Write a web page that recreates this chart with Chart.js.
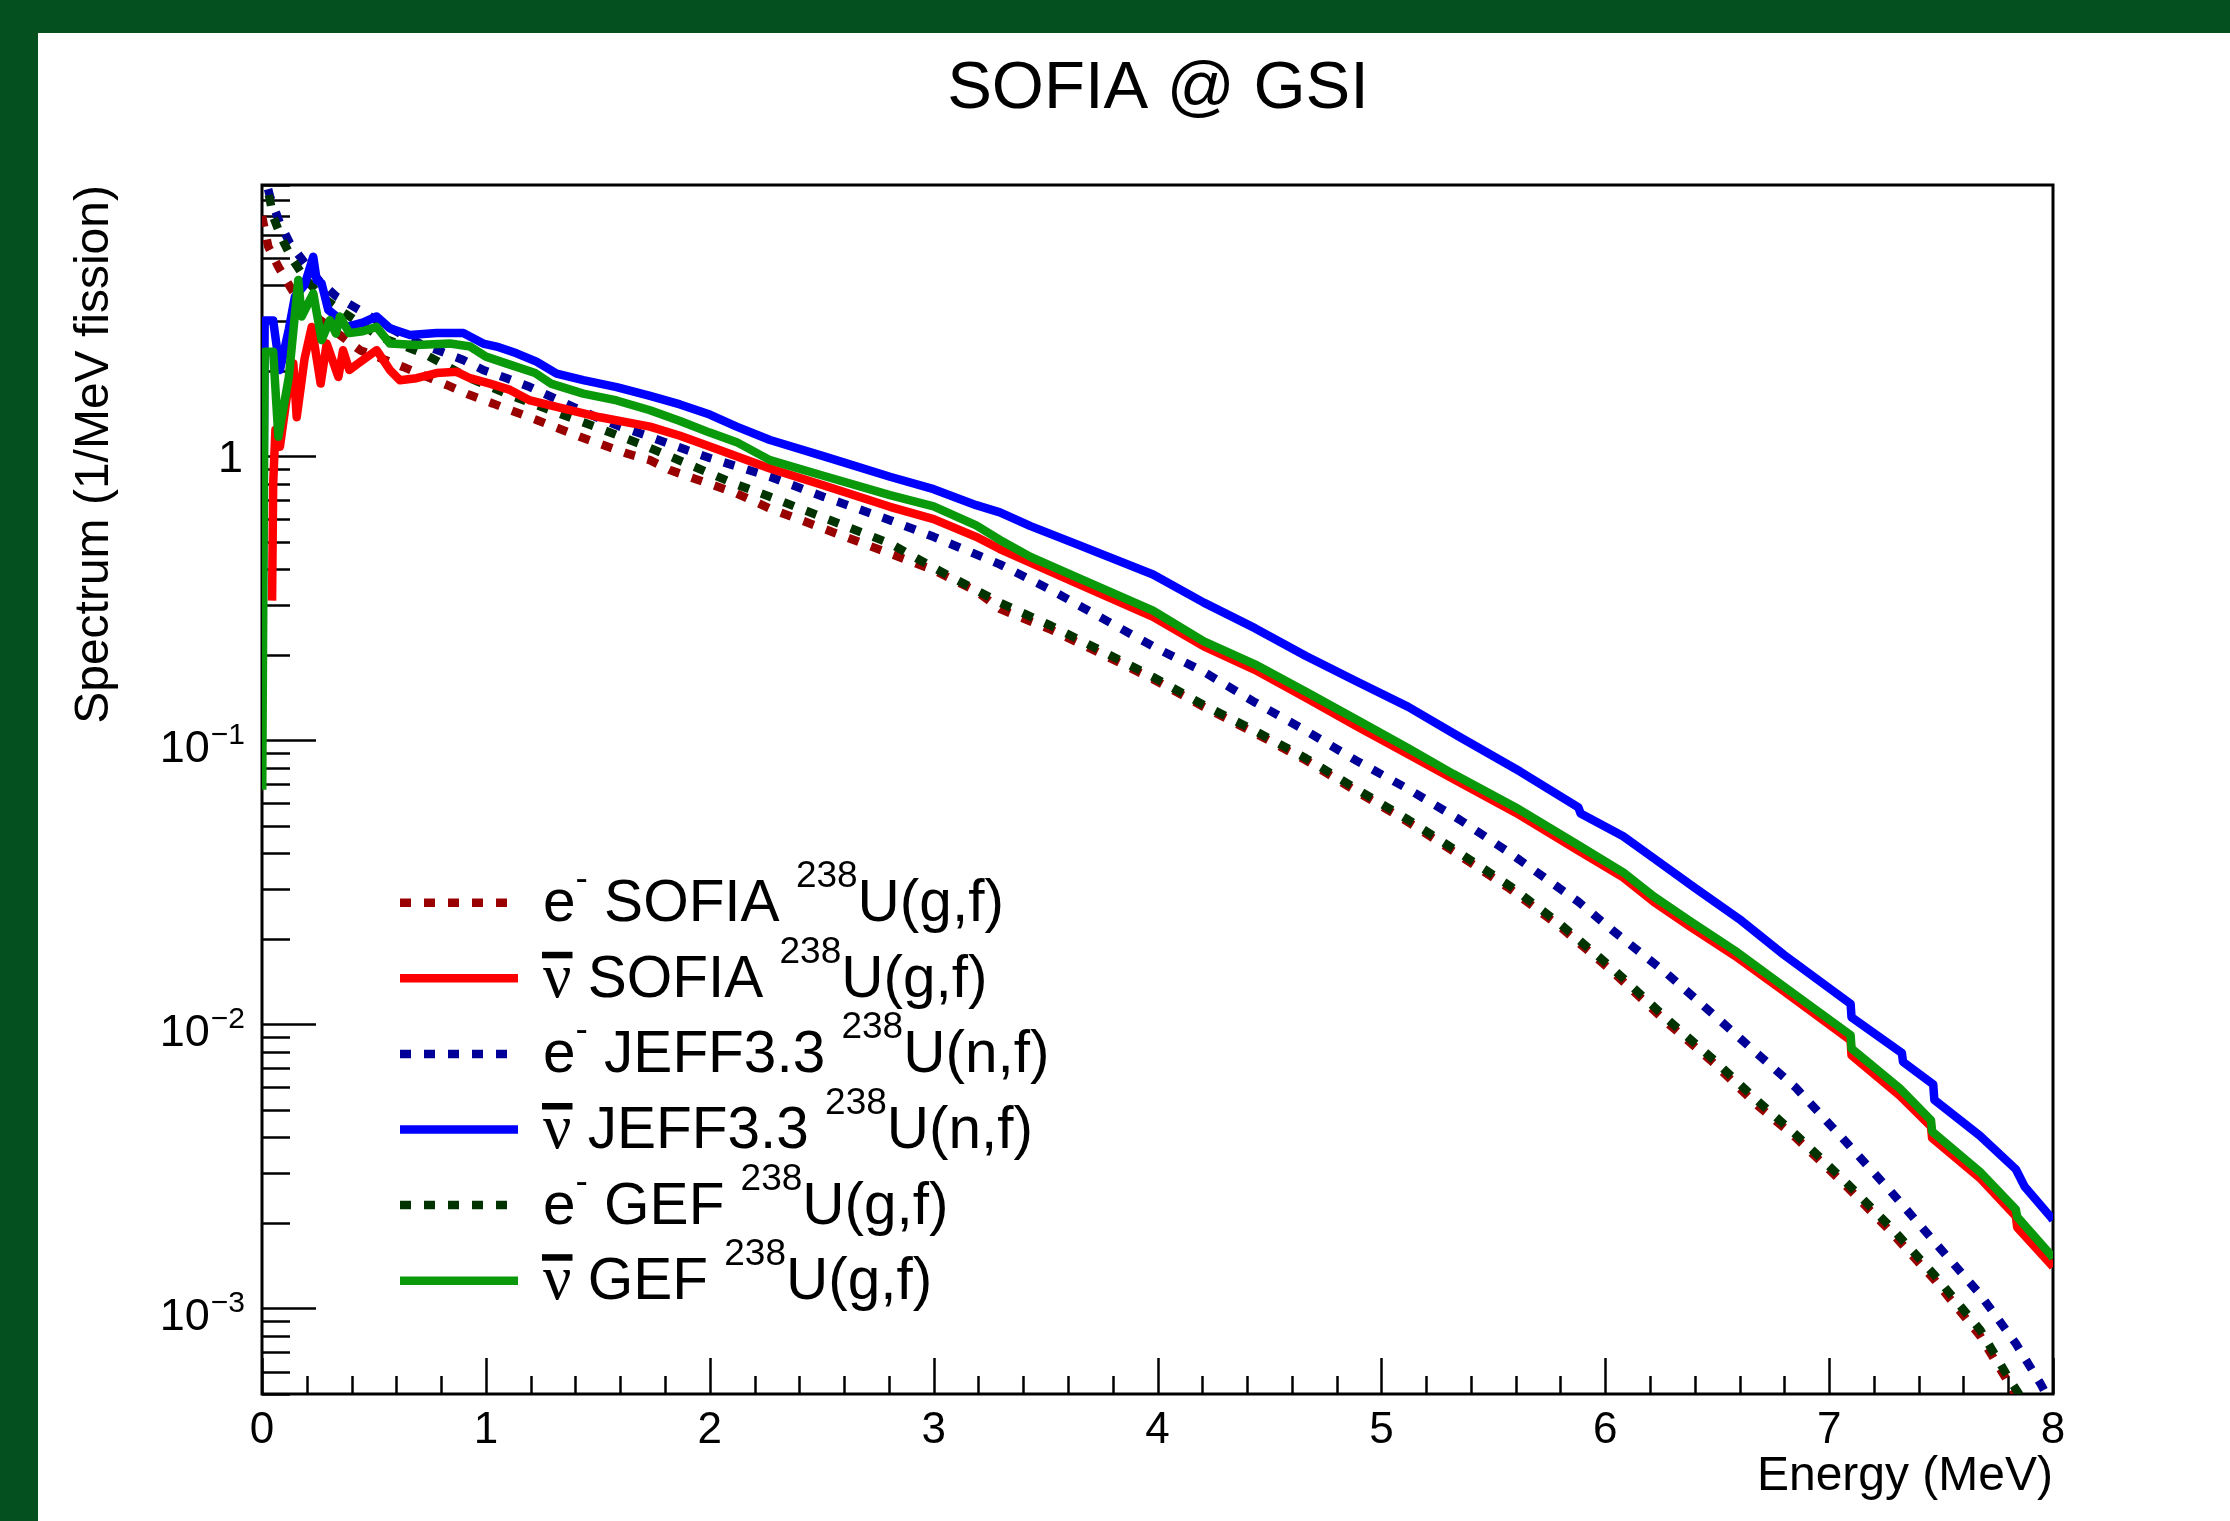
<!DOCTYPE html>
<html>
<head>
<meta charset="utf-8">
<script src="https://cdn.jsdelivr.net/npm/chart.js@4.4.1/dist/chart.umd.min.js"></script>
<style>
html,body{margin:0;padding:0;background:#fff;overflow:hidden}
canvas{display:block}
</style>
</head>
<body>
<canvas id="c" width="2230" height="1521"></canvas>
<script>
// ---------------- data ----------------
const eSofiaE = [0.0, 0.028, 0.073, 0.125, 0.184, 0.3, 0.438, 0.631, 0.825, 0.929, 1.033, 1.227, 1.42, 1.629, 1.733, 1.822, 2.016, 2.12, 2.269, 2.507, 2.805, 3.0, 3.19, 3.296, 3.524, 3.752, 3.98, 4.207, 4.435, 4.663, 4.89, 5.12, 5.35, 5.574, 5.8, 6.03, 6.279, 6.485, 6.678, 6.85, 7.076, 7.276, 7.475, 7.675, 7.8, 7.86];
const eSofiaV = [7.0, 5.46, 4.64, 3.95, 3.35, 2.85, 2.36, 2.06, 1.78, 1.64, 1.53, 1.34, 1.17, 1.022, 0.968, 0.893, 0.79, 0.739, 0.654, 0.556, 0.454, 0.397, 0.335, 0.29, 0.245, 0.201, 0.164, 0.131, 0.106, 0.085, 0.066, 0.0515, 0.0393, 0.03, 0.022, 0.0154, 0.0101, 0.0073, 0.0052, 0.004, 0.0027, 0.00186, 0.00125, 0.0008, 0.00055, 0.00046];

const nuSofiaE = [0.045, 0.05, 0.06, 0.08, 0.11, 0.14, 0.155, 0.19, 0.222, 0.262, 0.289, 0.341, 0.362, 0.39, 0.43, 0.512, 0.571, 0.616, 0.69, 0.78, 0.87, 0.929, 1.018, 1.108, 1.197, 1.316, 1.51, 1.733, 1.867, 2.031, 2.269, 2.507, 2.805, 3.0, 3.19, 3.296, 3.638, 3.98, 4.207, 4.435, 4.663, 4.89, 5.12, 5.322, 5.6, 5.88, 6.08, 6.219, 6.378, 6.578, 6.797, 7.096, 7.1, 7.315, 7.455, 7.46, 7.673, 7.834, 7.84, 7.994, 8.0];
const nuSofiaV = [0.31, 0.8, 1.24, 1.08, 1.6, 2.12, 1.37, 2.2, 2.85, 1.8, 2.49, 1.9, 2.36, 2.01, 2.12, 2.36, 2.01, 1.85, 1.88, 1.96, 1.98, 1.88, 1.8, 1.71, 1.57, 1.49, 1.37, 1.27, 1.18, 1.06, 0.905, 0.79, 0.663, 0.6, 0.52, 0.471, 0.357, 0.272, 0.214, 0.177, 0.141, 0.112, 0.0893, 0.073, 0.0556, 0.0409, 0.0329, 0.0269, 0.0221, 0.01745, 0.0131, 0.00878, 0.00778, 0.00562, 0.00437, 0.00398, 0.00288, 0.00211, 0.00193, 0.00142, 0.0014];

const eJeffE = [0.0, 0.036, 0.08, 0.125, 0.192, 0.26, 0.333, 0.423, 0.55, 0.7, 0.899, 0.988, 1.093, 1.197, 1.39, 1.495, 1.599, 1.733, 1.897, 2.0, 2.269, 2.507, 2.805, 3.0, 3.296, 3.524, 3.752, 3.98, 4.207, 4.435, 4.663, 4.89, 5.12, 5.35, 5.574, 5.88, 6.03, 6.279, 6.485, 6.678, 6.85, 7.076, 7.276, 7.475, 7.675, 7.834, 7.944, 8.0];
const eJeffV = [10.5, 8.19, 6.6, 5.61, 4.77, 4.1, 3.64, 3.31, 2.88, 2.5, 2.18, 2.01, 1.88, 1.75, 1.49, 1.37, 1.27, 1.17, 1.05, 0.985, 0.846, 0.72, 0.595, 0.52, 0.416, 0.338, 0.269, 0.214, 0.174, 0.136, 0.108, 0.0846, 0.0673, 0.0525, 0.0401, 0.027, 0.0215, 0.015, 0.0108, 0.0079, 0.006, 0.00385, 0.00258, 0.0017, 0.00112, 0.000753, 0.000544, 0.00045];

const nuJeffE = [0.002, 0.012, 0.05, 0.08, 0.12, 0.147, 0.19, 0.229, 0.244, 0.266, 0.296, 0.333, 0.378, 0.45, 0.512, 0.571, 0.661, 0.78, 0.899, 0.988, 1.048, 1.137, 1.226, 1.316, 1.435, 1.584, 1.733, 1.867, 2.0, 2.12, 2.269, 2.507, 2.805, 3.0, 3.19, 3.296, 3.433, 3.638, 3.98, 4.207, 4.435, 4.663, 4.89, 5.12, 5.342, 5.62, 5.88, 5.89, 6.08, 6.219, 6.398, 6.598, 6.797, 7.096, 7.1, 7.325, 7.33, 7.465, 7.47, 7.673, 7.834, 7.874, 7.994, 8.0];
const nuJeffV = [0.2, 3.0, 3.0, 2.01, 2.8, 3.64, 4.0, 5.03, 4.17, 4.06, 3.27, 3.1, 2.85, 2.95, 3.1, 2.82, 2.67, 2.71, 2.71, 2.49, 2.43, 2.3, 2.15, 1.95, 1.85, 1.75, 1.63, 1.52, 1.4, 1.27, 1.14, 1.0, 0.846, 0.765, 0.672, 0.634, 0.567, 0.49, 0.383, 0.305, 0.248, 0.198, 0.161, 0.131, 0.1035, 0.0776, 0.058, 0.0552, 0.0459, 0.0383, 0.0303, 0.0235, 0.0176, 0.0118, 0.0106, 0.00793, 0.00738, 0.00615, 0.00542, 0.00406, 0.00309, 0.00268, 0.00208, 0.00205];

const eGefE = [0.0, 0.028, 0.05, 0.088, 0.133, 0.192, 0.267, 0.348, 0.438, 0.527, 0.72, 0.914, 1.108, 1.309, 1.51, 1.703, 1.897, 2.09, 2.269, 2.507, 2.805, 3.0, 3.296, 3.524, 3.752, 3.98, 4.207, 4.435, 4.663, 4.89, 5.12, 5.35, 5.574, 5.8, 6.03, 6.279, 6.485, 6.678, 6.85, 7.076, 7.276, 7.475, 7.675, 7.805, 7.87];
const eGefV = [10.0, 8.52, 6.96, 5.84, 4.97, 4.22, 3.64, 3.27, 2.93, 2.63, 2.3, 1.9, 1.64, 1.43, 1.25, 1.093, 0.942, 0.812, 0.719, 0.608, 0.493, 0.405, 0.305, 0.253, 0.206, 0.167, 0.133, 0.108, 0.0864, 0.0673, 0.0525, 0.0401, 0.0307, 0.0225, 0.0158, 0.0104, 0.0075, 0.0054, 0.0041, 0.00278, 0.00193, 0.0013, 0.00084, 0.000564, 0.00047];

const nuGefE = [0.001, 0.012, 0.05, 0.073, 0.12, 0.162, 0.177, 0.229, 0.266, 0.303, 0.33, 0.348, 0.39, 0.45, 0.512, 0.571, 0.69, 0.84, 0.93, 1.0, 1.09, 1.22, 1.29, 1.435, 1.584, 1.733, 1.867, 2.0, 2.12, 2.269, 2.507, 2.805, 3.0, 3.19, 3.296, 3.433, 3.638, 3.98, 4.207, 4.435, 4.663, 4.89, 5.12, 5.322, 5.6, 5.88, 6.08, 6.219, 6.378, 6.578, 6.797, 7.096, 7.1, 7.315, 7.455, 7.46, 7.673, 7.834, 7.84, 7.994, 8.0];
const nuGefV = [0.067, 2.33, 2.33, 1.17, 1.9, 4.17, 3.1, 3.74, 2.56, 3.01, 2.7, 3.1, 2.71, 2.75, 2.85, 2.49, 2.46, 2.49, 2.43, 2.24, 2.12, 1.96, 1.8, 1.66, 1.57, 1.45, 1.33, 1.21, 1.12, 0.968, 0.853, 0.729, 0.665, 0.57, 0.507, 0.442, 0.375, 0.286, 0.223, 0.185, 0.148, 0.118, 0.0937, 0.076, 0.058, 0.0427, 0.0343, 0.0281, 0.0231, 0.0182, 0.0136, 0.00916, 0.00822, 0.00596, 0.0046, 0.0042, 0.00303, 0.00223, 0.0021, 0.00153, 0.0015];

// legend text pieces
const legendKinds = ['e', 'nu', 'e', 'nu', 'e', 'nu'];
const legendNames = ['SOFIA', 'SOFIA', 'JEFF3.3', 'JEFF3.3', 'GEF', 'GEF'];
const legendMass = ['238', '238', '238', '238', '238', '238'];
const legendReactions = ['U(g,f)', 'U(g,f)', 'U(n,f)', 'U(n,f)', 'U(g,f)', 'U(g,f)'];

// axes
const xTickLabels = ['0', '1', '2', '3', '4', '5', '6', '7', '8'];
const yMajorExps = [0, -1, -2, -3];
const chartTitle = 'SOFIA @ GSI';
const xTitle = 'Energy (MeV)';
const yTitle = 'Spectrum (1/MeV fission)';

// ---------------- chart ----------------
const SANS = '"Liberation Sans", Arial, Helvetica, sans-serif';
const SERIF = '"Liberation Serif", "DejaVu Serif", "Times New Roman", serif';
const BAND = '#04501f';

function pts(E, V) { return E.map((e, i) => ({ x: e, y: V[i] })); }

const DOT = [11, 13];
const datasets = [
  { data: pts(eSofiaE, eSofiaV), borderColor: '#990000', borderDash: DOT, borderWidth: 8.5, order: 4, borderJoinStyle: 'bevel' },
  { data: pts(nuSofiaE, nuSofiaV), borderColor: '#ff0000', borderDash: [], borderWidth: 8.5, order: 1, borderJoinStyle: 'round' },
  { data: pts(eJeffE, eJeffV), borderColor: '#000099', borderDash: DOT, borderWidth: 8.5, order: 5, borderJoinStyle: 'bevel' },
  { data: pts(nuJeffE, nuJeffV), borderColor: '#0000ff', borderDash: [], borderWidth: 8.5, order: 2, borderJoinStyle: 'round' },
  { data: pts(eGefE, eGefV), borderColor: '#003300', borderDash: DOT, borderWidth: 8.5, order: 3, borderJoinStyle: 'bevel' },
  { data: pts(nuGefE, nuGefV), borderColor: '#0a990a', borderDash: [], borderWidth: 8.5, order: 0, borderJoinStyle: 'round' }
];

function drawRich(ctx, pieces, x, base) {
  for (const p of pieces) {
    ctx.font = p[1] + 'px ' + (p[3] || SANS);
    ctx.fillText(p[0], x, base - p[2]);
    x += ctx.measureText(p[0]).width;
  }
  return x;
}

const rootAxes = {
  id: 'rootAxes',
  beforeDraw(chart) {
    const c = chart.ctx;
    c.save();
    c.fillStyle = '#ffffff';
    c.fillRect(0, 0, chart.width, chart.height);
    c.fillStyle = BAND;
    c.fillRect(0, 0, chart.width, 33);
    c.fillRect(0, 0, 38, chart.height);
    c.restore();
  },
  beforeDatasetsDraw(chart) {
    const c = chart.ctx;
    const a = chart.chartArea;
    const xs = chart.scales.x, ys = chart.scales.y;
    c.save();
    c.strokeStyle = '#000';
    c.lineWidth = 2.5;
    c.setLineDash([]);
    for (let i = 0; i <= 40; i++) {
      const v = i * 0.2;
      const px = Math.round(xs.getPixelForValue(v)) + 0.5;
      const len = (i % 5 === 0) ? 36 : 18;
      c.beginPath(); c.moveTo(px, a.bottom); c.lineTo(px, a.bottom - len); c.stroke();
    }
    for (let e = -4; e <= 1; e++) {
      for (let k = 1; k <= 9; k++) {
        const v = k * Math.pow(10, e);
        if (v < ys.min * 0.999 || v > ys.max * 1.001) continue;
        const py = Math.round(ys.getPixelForValue(v)) + 0.5;
        const len = (k === 1) ? 54 : 28;
        c.beginPath(); c.moveTo(a.left, py); c.lineTo(a.left + len, py); c.stroke();
      }
    }
    c.lineWidth = 3;
    c.strokeRect(a.left, a.top, a.right - a.left, a.bottom - a.top);
    c.restore();
  },
  afterDraw(chart) {
    const c = chart.ctx;
    const a = chart.chartArea;
    const xs = chart.scales.x, ys = chart.scales.y;
    c.save();
    c.fillStyle = '#000';
    c.font = '67px ' + SANS;
    c.textAlign = 'center';
    c.textBaseline = 'alphabetic';
    c.fillText(chartTitle, 1158, 108);
    c.font = '44px ' + SANS;
    xTickLabels.forEach((t, i) => {
      c.fillText(t, xs.getPixelForValue(i), a.bottom + 49);
    });
    const rightX = a.left - 17;
    yMajorExps.forEach(ex => {
      const py = ys.getPixelForValue(Math.pow(10, ex));
      if (ex === 0) {
        c.font = '45px ' + SANS;
        c.textAlign = 'right';
        c.fillText('1', rightX - 2, py + 16);
      } else {
        const sup = '\u2212' + (-ex);
        c.font = '30px ' + SANS;
        const ws = c.measureText(sup).width;
        c.textAlign = 'left';
        c.fillText(sup, rightX - ws, py + 3.5);
        c.font = '45px ' + SANS;
        c.textAlign = 'right';
        c.fillText('10', rightX - ws - 1, py + 22);
      }
    });
    c.font = '48px ' + SANS;
    c.textAlign = 'right';
    c.fillText(xTitle, a.right, a.bottom + 96);
    c.save();
    c.translate(108, a.top);
    c.rotate(-Math.PI / 2);
    c.textAlign = 'right';
    c.fillText(yTitle, 0, 0);
    c.restore();

    // legend
    c.textAlign = 'left';
    const x0 = 400, x1 = 518, tx = 543, y0 = 902.7, dy = 75.6;
    chart.data.datasets.forEach((ds, i) => {
      const ry = y0 + i * dy;
      c.save();
      c.strokeStyle = ds.borderColor;
      c.lineWidth = 8.5;
      c.lineCap = 'butt';
      c.setLineDash(ds.borderDash || []);
      c.beginPath(); c.moveTo(x0, ry); c.lineTo(x1, ry); c.stroke();
      c.restore();
      const base = ry + 18.5;
      let x = tx;
      if (legendKinds[i] === 'e') {
        x = drawRich(c, [['e', 58.5, 0], ['-', 37, 31]], x, base);
      } else {
        c.font = '63px ' + SERIF;
        const w = c.measureText('\u03bd').width;
        c.fillText('\u03bd', x, base);
        c.fillRect(x - 1, ry - 26.5, w + 2, 6.5);
        x += w;
      }
      drawRich(c, [[' ' + legendNames[i] + ' ', 58.5, 0], [legendMass[i], 37, 34], [legendReactions[i], 58.5, 0]], x, base);
    });
    c.restore();
  }
};

new Chart(document.getElementById('c').getContext('2d'), {
  type: 'line',
  data: { datasets },
  options: {
    responsive: false,
    animation: false,
    devicePixelRatio: 1,
    layout: { padding: { left: 262, top: 185, right: 177, bottom: 127 } },
    scales: {
      x: { type: 'linear', min: 0, max: 8, display: false },
      y: { type: 'logarithmic', min: 5e-4, max: 9, display: false }
    },
    plugins: { legend: { display: false }, tooltip: { enabled: false }, title: { display: false } },
    elements: { point: { radius: 0 }, line: { tension: 0, borderCapStyle: 'butt', fill: false } }
  },
  plugins: [rootAxes]
});
</script>
</body>
</html>
